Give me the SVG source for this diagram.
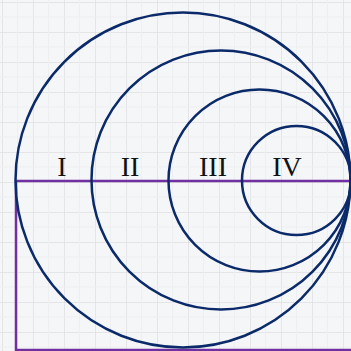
<svg xmlns="http://www.w3.org/2000/svg" width="351" height="351" viewBox="0 0 351 351">
  <style>
    .circ { fill: none; stroke: #0b2a6a; stroke-width: 2.5; }
    .purple { fill: none; stroke: #7030a0; stroke-width: 2.5; }
    .lbl { font-family: "Liberation Serif", "Times New Roman", serif; font-size: 28px; fill: #111; text-anchor: middle; }
  </style>
  <defs>
    <pattern id="grid" x="2" y="2" width="31" height="30" patternUnits="userSpaceOnUse">
      <path d="M 0 0 L 0 30 M 0 0 L 31 0" fill="none" stroke="#dfe0e3" stroke-width="1.5"/>
      <path d="M 15.5 0 L 15.5 30 M 0 15 L 31 15" fill="none" stroke="#eeeff1" stroke-width="1"/>
    </pattern>
  </defs>
  <rect width="351" height="351" fill="#f5f6f8"/>
  <rect width="351" height="351" fill="url(#grid)"/>
  <g id="connectors">
    <path class="purple" d="M 16 181 L 351 181"/>
    <path class="purple" d="M 16 181 L 16 350 L 351 350"/>
  </g>
  <g id="circle1"><circle class="circ" cx="183" cy="180" r="167.5"/></g>
  <g id="circle2"><circle class="circ" cx="221" cy="180" r="129.5"/></g>
  <g id="circle3"><circle class="circ" cx="259.5" cy="180.5" r="91"/></g>
  <g id="circle4"><circle class="circ" cx="296.5" cy="180.5" r="54.5"/></g>
  <g id="label-I"><text class="lbl" x="62" y="176">I</text></g>
  <g id="label-II"><text class="lbl" x="130" y="176">II</text></g>
  <g id="label-III"><text class="lbl" x="213" y="176">III</text></g>
  <g id="label-IV"><text class="lbl" x="287" y="176">IV</text></g>
</svg>
